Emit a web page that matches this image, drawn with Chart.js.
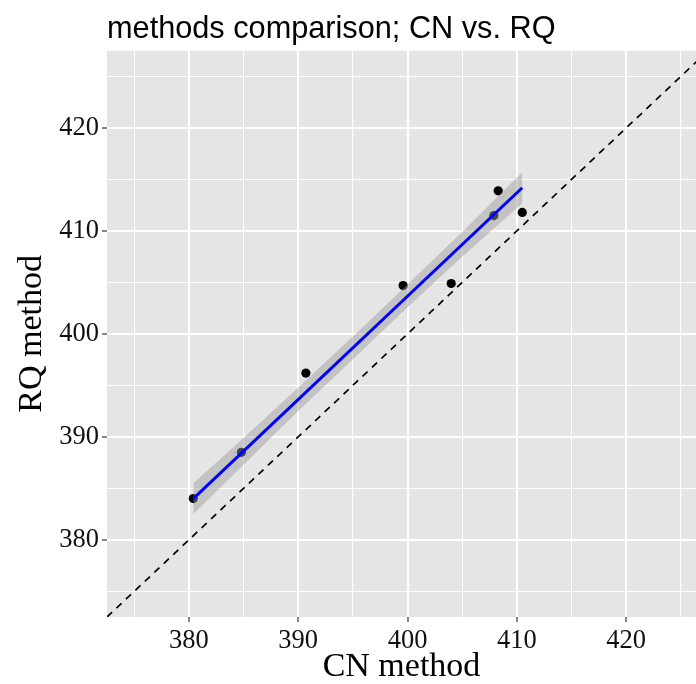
<!DOCTYPE html>
<html>
<head>
<meta charset="utf-8">
<title>methods comparison; CN vs. RQ</title>
<script src="https://cdn.jsdelivr.net/npm/chart.js@4.4.1/dist/chart.umd.min.js"></script>
<style>
  html, body { margin: 0; padding: 0; background: #ffffff; }
  #wrap { width: 696px; height: 684px; }
</style>
</head>
<body>
<div id="wrap"><canvas id="chart" width="696" height="684"></canvas></div>
<script>
// measured points: CN method (x) vs RQ method (y)
const cnValues = [380.4, 384.8, 390.7, 399.6, 404.0, 407.9, 408.3, 410.5];
const rqValues = [384.0, 388.5, 396.2, 404.7, 404.9, 411.5, 413.9, 411.8];

// fitted line ends and confidence band
const fitX = [380.4, 410.5];
const fitY = [384.0, 414.2];
const bandX = [380.4, 385, 390, 395, 400, 405, 410.5];
const bandUpper = [385.5, 389.9, 394.8, 399.75, 404.8, 409.9, 415.7];
const bandLower = [382.5, 387.3, 392.5, 397.55, 402.6, 407.5, 412.7];

// identity line y = x
const refLine = [372.5, 427.5];

const axisMin = 372.5;
const xAxisMax = 426.4;
const yAxisMax = 427.5;
const gridValues = [375, 380, 385, 390, 395, 400, 405, 410, 415, 420, 425];
const tickLabels = [380, 390, 400, 410, 420];

const toPoints = (xs, ys) => xs.map((x, i) => ({ x, y: ys[i] }));

const isMajor = (v) => tickLabels.includes(v);

const panelBackground = {
  id: "panelBackground",
  beforeDraw(chart) {
    const { ctx, chartArea } = chart;
    ctx.save();
    ctx.fillStyle = "#e5e5e5";
    ctx.fillRect(chartArea.left, chartArea.top, chartArea.right - chartArea.left, chartArea.bottom - chartArea.top);
    ctx.restore();
  },
};

function axisOptions(max, titleText, titlePadding, fitSize) {
  return {
    type: "linear",
    min: axisMin,
    max,
    afterBuildTicks: (scale) => {
      scale.ticks = gridValues.map((value) => ({ value }));
    },
    afterFit: (scale) => {
      fitSize(scale);
      scale.paddingLeft = 0;
      scale.paddingRight = 0;
      scale.paddingTop = 0;
      scale.paddingBottom = 0;
    },
    border: { display: false },
    grid: {
      color: "#ffffff",
      lineWidth: (ctx) => (ctx.tick && isMajor(ctx.tick.value) ? 2 : 1),
      tickColor: (ctx) => (ctx.tick && isMajor(ctx.tick.value) ? "#333333" : "rgba(0,0,0,0)"),
      tickLength: 5,
      tickWidth: 1.2,
      drawTicks: true,
    },
    ticks: {
      autoSkip: false,
      maxRotation: 0,
      padding: 3,
      color: "#111111",
      font: { family: "'Liberation Serif', 'DejaVu Serif', serif", size: 26.5 },
      callback: (value) => (isMajor(value) ? String(value) : ""),
    },
    title: {
      display: true,
      text: titleText,
      color: "#000000",
      font: { family: "'Liberation Serif', 'DejaVu Serif', serif", size: 34, lineHeight: 1 },
      padding: titlePadding,
    },
  };
}

const ctx = document.getElementById("chart");

new Chart(ctx, {
  type: "scatter",
  data: {
    datasets: [
      {
        label: "samples",
        data: toPoints(cnValues, rqValues),
        backgroundColor: "#000000",
        borderWidth: 0,
        pointRadius: 4.6,
        order: 3,
      },
      {
        label: "y = x",
        data: toPoints(refLine, refLine),
        showLine: true,
        borderColor: "#000000",
        borderWidth: 1.7,
        borderDash: [7, 6],
        pointRadius: 0,
        order: 2,
      },
      {
        label: "upper",
        data: toPoints(bandX, bandUpper),
        showLine: true,
        borderWidth: 0,
        borderColor: "rgba(0,0,0,0)",
        backgroundColor: "rgba(153,153,153,0.45)",
        pointRadius: 0,
        fill: "+1",
        order: 1,
      },
      {
        label: "lower",
        data: toPoints(bandX, bandLower),
        showLine: true,
        borderWidth: 0,
        borderColor: "rgba(0,0,0,0)",
        pointRadius: 0,
        fill: false,
        order: 1,
      },
      {
        label: "fit",
        data: toPoints(fitX, fitY),
        showLine: true,
        borderColor: "#0000ff",
        borderWidth: 3,
        pointRadius: 0,
        order: 0,
      },
    ],
  },
  options: {
    responsive: false,
    animation: false,
    events: [],
    layout: { autoPadding: false, padding: { left: 0, right: 0, top: 0, bottom: 0 } },
    plugins: {
      legend: { display: false },
      tooltip: { enabled: false },
      title: {
        display: true,
        text: "methods comparison; CN vs. RQ",
        align: "start",
        fullSize: false,
        color: "#000000",
        font: { family: "'Liberation Sans', Arial, sans-serif", size: 30.7, weight: "normal" },
        padding: { top: 11, bottom: 3 },
      },
    },
    scales: {
      x: axisOptions(xAxisMax, "CN method", { top: 0, bottom: 0 }, (scale) => {
        scale.height = 67;
      }),
      y: axisOptions(yAxisMax, "RQ method", { top: 15, bottom: 0 }, (scale) => {
        scale.width = 107;
      }),
    },
  },
  plugins: [panelBackground],
});
</script>
</body>
</html>
